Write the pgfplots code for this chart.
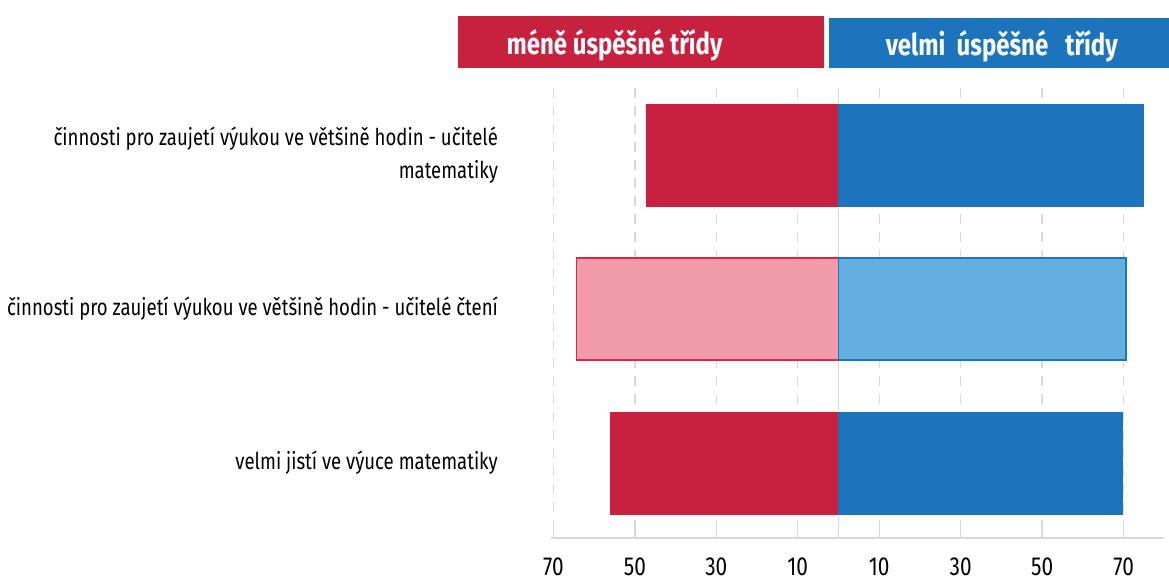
\documentclass[border=0pt]{standalone}
\usepackage{fontspec}
\setmainfont{Fira Sans}[FakeStretch=0.8]
\usepackage{pgfplots}
\pgfplotsset{compat=1.18}
\definecolor{dred}{HTML}{C8203F}
\definecolor{lred}{HTML}{F29CAA}
\definecolor{bred}{HTML}{D6264A}
\definecolor{dblue}{HTML}{1C75BC}
\definecolor{lblue}{HTML}{63B0E0}
\definecolor{gridc}{HTML}{D9D9D9}
\begin{document}
\begin{tikzpicture}
\begin{axis}[
  scale only axis, width=613pt, height=450pt,
  xmin=-70.5, xmax=80, ymin=0.565, ymax=3.487, y dir=reverse,
  axis x line*=bottom, axis y line*=left,
  y axis line style={draw=none},
  x axis line style={draw=gridc, line width=1.5pt},
  xtick={-70,-50,-30,-10,10,30,50,70},
  xticklabels={70,50,30,10,10,30,50,70},
  extra x ticks={0}, extra x tick labels={},
  extra x tick style={grid style={solid, draw=gridc, line width=1.5pt}},
  xmajorgrids, grid style={dashed, dash pattern=on 10pt off 8pt, draw=gridc, line width=1.3pt},
  tick align=inside, major tick length=12pt,
  xtick style={draw=gridc, line width=1.3pt},
  ytick={1,2,3},
  yticklabels={{činnosti pro zaujetí výukou ve většině hodin - učitelé\\matematiky},
               {činnosti pro zaujetí výukou ve většině hodin - učitelé čtení},
               {velmi jistí ve výuce matematiky}},
  ytick style={draw=none},
  yticklabel style={align=right, font=\fontsize{23.2}{33}\selectfont, xshift=-50pt},
  xticklabel style={font=\fontsize{26}{26}\selectfont, yshift=-16pt},
  /pgf/number format/assume math mode=true,
  clip=false,
]
\addplot[xbar, bar shift=0pt, bar width=0.66, fill=dred, draw=dred] coordinates {(-47.3,1) (-56.1,3)};
\addplot[xbar, bar shift=0pt, bar width=0.66, fill=lred, draw=bred, line width=1.5pt] coordinates {(-64.3,2)};
\addplot[xbar, bar shift=0pt, bar width=0.66, fill=dblue, draw=dblue] coordinates {(74.8,1) (69.7,3)};
\addplot[xbar, bar shift=0pt, bar width=0.66, fill=lblue, draw=dblue, line width=1.5pt] coordinates {(70.6,2)};
\fill[dred] (axis cs:-93.4,0.097) rectangle (axis cs:-3.56,0.435);
\fill[dblue] (axis cs:-2.36,0.11) rectangle (axis cs:81.2,0.435);
\node[text=white, font=\fontsize{30}{30}\selectfont\bfseries] at (axis cs:-55.0,0.29) {méně úspěšné třídy};
\node[text=white, font=\fontsize{30}{30}\selectfont\bfseries] at (axis cs:40.1,0.295) {velmi\ \ úspěšné\ \ \ třídy};
\coordinate (BL) at (axis cs:-205.9,3.766);
\coordinate (TR) at (axis cs:81.15,-0.0065);
\end{axis}
\pgfresetboundingbox
\useasboundingbox (BL) rectangle (TR);
\end{tikzpicture}
\end{document}
